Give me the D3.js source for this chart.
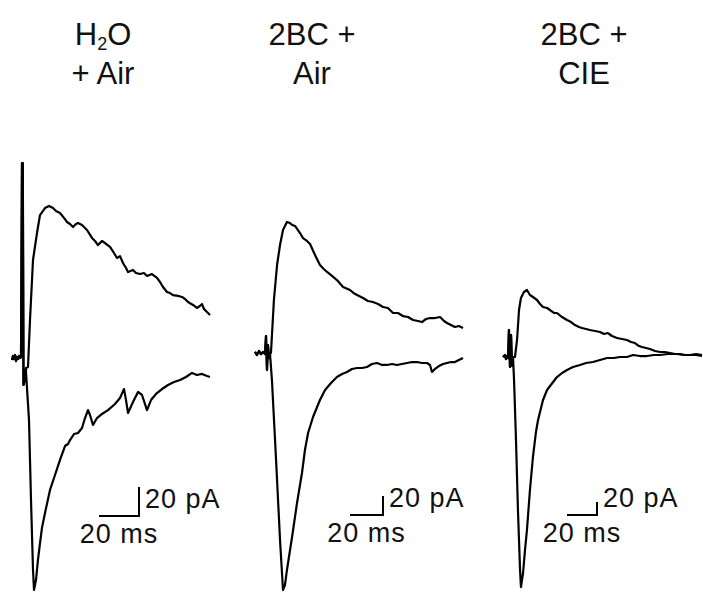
<!DOCTYPE html>
<html>
<head>
<meta charset="utf-8">
<script src="https://cdn.jsdelivr.net/npm/d3@7"></script>
<style>
  html, body { margin: 0; padding: 0; background: #fff; }
  svg { display: block; }
  text { font-family: "Liberation Sans", Arial, Helvetica, sans-serif; fill: #111; }
</style>
</head>
<body>
<svg id="chart" width="703" height="594"></svg>
<script>
// Evoked currents: time (ms, 0 = stimulus) and current (pA, outward positive).

// Panel 1: H2O + Air
const h2oBaseline = [[-5,-1.4],[-4.5,1.4],[-4,-0.7],[-3.5,2.1],[-3,-2.1],[-2.5,0.7],[-2,-0.7],[-1.5,1.4],[-1,0],[-0.5,0.7],
  [0,134.5],[0.4,134.5],[0.75,-18.6],[1.5,-15],[2,-7]];
const h2oOutward = [[3,-6.2],[4,26.2],[5.5,67.6],[7.5,86.2],[9,98.6],[11.5,103.4],[13.5,104.8],[15.5,103.4],[17,101.4],[19,100],
  [21,96.6],[22.5,93.8],[24,92.4],[25.5,90.3],[27,92.4],[28,93.1],[30,91.7],[31,90.3],[32.5,88.3],[35,82.8],[36.5,80.7],[38,77.9],
  [40,80.7],[41.5,79.3],[44,76.6],[46,72.4],[47.5,69],[49,70.3],[50.5,65.5],[52,62.1],[53,59.3],[55.5,60.7],[57,58.6],[59,57.9],
  [61,58.6],[62.5,56.6],[65,57.9],[67.5,55.2],[69,52.4],[70.5,49],[72.5,45.5],[74,44.8],[75.5,43.4],[78,42.8],[80,42.1],[81.5,40.7],
  [83,38.6],[85.5,36.6],[87.5,34.5],[89,35.9],[90,37.2],[91,33.8],[92.5,31.7],[94,29.7]];
const h2oInward = [[2,-9.7],[3.5,-42.8],[4.5,-97.9],[5.5,-146],[6,-160],[7,-153],[8,-139],[9,-127.6],[10,-117],[11.5,-106.9],
  [14,-91],[16.5,-80.7],[19,-70.3],[21.5,-60.7],[23,-59.3],[24,-56.6],[26,-52.4],[28,-51.7],[30,-48.3],[31.5,-41.4],[33,-35.9],
  [34,-39.3],[35.5,-46.2],[37.5,-41.4],[40,-38.6],[43,-35.9],[46.5,-31.7],[49,-27.6],[51,-21.4],[52,-29],[53,-37.9],[55.5,-30.3],
  [58,-23.4],[60,-25.5],[62.5,-35.9],[64.5,-29],[67,-24.8],[70,-21.4],[73,-18.6],[76,-16.6],[79,-15.2],[82,-13.1],[85,-10.3],
  [87.5,-11.7],[90,-11],[92.5,-12.4],[94,-13.1]];

// Panel 2: 2BC + Air
const bcAirBaseline = [[-6.7,1.1],[-5.5,-2.1],[-4.2,2.1],[-3,-1.1],[-1.8,1.1],[-0.6,-1.1],
  [0,17.9],[0.6,-17.9],[1.2,8.4],[1.8,-5.3],[2.4,0]];
const bcAirOutward = [[3,0],[4.8,55.8],[6.7,92.6],[8.5,113.7],[10.3,129.5],[12.7,137.9],[14.5,136.8],[16,134.7],[17.6,133.7],
  [20.6,126.3],[22.4,121],[24.2,118.9],[26.7,114.7],[29.7,103.2],[32.7,92.6],[35,88.4],[37,85.3],[40,81.1],[43,76.8],[46.7,69.5],
  [50.9,66.3],[53,63.2],[55.2,61.1],[58.8,57.9],[61.8,54.7],[64.8,53.7],[67.9,51.6],[70.9,48.4],[73.9,47.4],[77,42.1],[80,42.1],
  [83,38.9],[86.1,37.9],[89.1,34.7],[92.1,33.7],[94.5,32.6],[97,35.8],[99.4,36.8],[102.4,36.8],[105.5,37.9],[107.9,33.7],
  [109.7,31.6],[112.1,29.5],[114.5,27.4],[116.9,28.4],[119.4,26.3]];
const bcAirInward = [[2.4,0],[3.6,-28.4],[6.1,-112.6],[8.5,-196.8],[10.3,-249.5],[11.5,-244.2],[12.7,-228.4],[15.8,-193.7],
  [18.8,-157.9],[21.8,-126.3],[23.6,-102.1],[25.5,-84.2],[28.5,-67.4],[32.7,-49.5],[35.8,-38.9],[39.4,-31.6],[43,-25.3],
  [46.1,-22.1],[49.1,-20],[52.1,-16.8],[55.2,-15.8],[58.2,-15.8],[61.2,-14.7],[64.2,-11.6],[67.3,-10.5],[70.3,-12.6],
  [73.3,-12.6],[76.4,-11.6],[79.4,-12.6],[82.4,-11.6],[85.5,-10.5],[88.5,-9.5],[91.5,-9.5],[94.5,-10.5],[97.6,-10.5],
  [99.4,-12.6],[100.6,-20],[102.4,-16.8],[104.8,-13.7],[107.3,-11.6],[109.7,-10.5],[112.1,-9.5],[114.5,-9.5],[116.9,-7.4],[119.4,-5.3]];

// Panel 3: 2BC + CIE
const bcCieBaseline = [[-4.7,0],[-3.3,3.1],[-2.7,-3.1],[-2,1.5],[-1.3,-1.5],
  [-0.7,41.5],[0,-15.4],[0.7,33.8],[1.3,-13.8],[2,0]];
const bcCieOutward = [[3.3,0],[4.7,26.2],[6,72.3],[7.3,90.8],[9.3,100],[11.3,103.1],[13.3,95.4],[15.3,92.3],[18,87.7],[20,81.5],
  [22,76.9],[24.7,75.4],[26.7,72.3],[29.3,67.7],[31.3,67.7],[34.7,61.5],[38,56.9],[40.7,53.8],[43.3,49.2],[46,46.2],[48,44.6],
  [50.7,43.1],[53.3,41.5],[56.7,40],[60,38.5],[62.7,35.4],[65.3,36.9],[68,32.3],[71.3,29.2],[74.7,27.7],[78,26.2],[80.7,23.1],
  [83.3,21.5],[86,16.9],[88,15.4],[90.7,13.8],[93.3,12.3],[96.7,9.2],[100,7.7],[103.3,7.7],[106.7,6.2],[110,4.6],[113.3,4.6],
  [116.7,3.1],[120,3.1],[124,3.1],[128,1.5]];
const bcCieInward = [[2,0],[2.7,-35.4],[4,-127.7],[5.3,-235.4],[6.7,-327.7],[7.3,-353.8],[8.7,-332.3],[10,-296.9],[11.3,-266.2],
  [13.3,-204.6],[15.3,-153.8],[17.3,-115.4],[18.7,-96.9],[22,-66.2],[24.7,-50.8],[26.7,-44.6],[31.3,-30.8],[34.7,-24.6],[38,-20],
  [42,-15.4],[46.7,-12.3],[50.7,-9.2],[55.3,-7.7],[60,-4.6],[64.7,-1.5],[69.3,-1.5],[73.3,0],[78,0],[82,3.1],[86.7,1.5],[91.3,1.5],
  [96,3.1],[100,3.1],[105.3,4.6],[111.3,4.6],[116,3.1],[120,3.1],[124,4.6],[128,3.1]];

// Condition labels (two lines each) and scale-bar sizes
const titleLine1 = ["H2O", "2BC +", "2BC +"];
const titleLine2 = ["+ Air", "Air", "CIE"];
const scaleBarMs = [20, 20, 20];
const scaleBarPA = [20, 20, 20];
// Scale-bar corner (ms, pA) in each panel's own coordinates
const scaleBarCorner = [[58.5, -109], [70.9, -170.5], [58, -243]];

// Layout: stimulus x, baseline y, pixels per ms, pixels per pA, title centre
const layout = [
  { x0: 22,  y0: 358, pxMs: 2.0,  pxPA: 1.45, titleX: 103 },
  { x0: 266, y0: 353, pxMs: 1.65, pxPA: 0.95, titleX: 312 },
  { x0: 510, y0: 357, pxMs: 1.5,  pxPA: 0.65, titleX: 584 }
];

const traces = [
  [h2oBaseline, h2oOutward, h2oInward],
  [bcAirBaseline, bcAirOutward, bcAirInward],
  [bcCieBaseline, bcCieOutward, bcCieInward]
];

const svg = d3.select("#chart");

layout.forEach((L, i) => {
  const x = d3.scaleLinear().domain([0, 100]).range([L.x0, L.x0 + 100 * L.pxMs]);
  const y = d3.scaleLinear().domain([0, 100]).range([L.y0, L.y0 - 100 * L.pxPA]);
  const line = d3.line().x(d => x(d[0])).y(d => y(d[1])).curve(d3.curveLinear);

  const g = svg.append("g");
  const [base, outward, inward] = traces[i];

  // Response traces share the pre-stimulus baseline and artifact
  [base.concat(outward), base.concat(inward)].forEach(pts => {
    g.append("path")
      .attr("d", line(pts))
      .attr("fill", "none")
      .attr("stroke", "#000")
      .attr("stroke-width", 2.2)
      .attr("stroke-linejoin", "round");
  });

  // Scale bar: horizontal (ms) then vertical (pA) meeting at the corner
  const [cT, cI] = scaleBarCorner[i];
  g.append("path")
    .attr("d", line([[cT - scaleBarMs[i], cI], [cT, cI], [cT, cI + scaleBarPA[i]]]))
    .attr("fill", "none")
    .attr("stroke", "#000")
    .attr("stroke-width", 2);

  g.append("text")
    .attr("x", x(cT) + 6)
    .attr("y", y(cI) - 8)
    .attr("font-size", 27)
    .attr("letter-spacing", 1)
    .text(scaleBarPA[i] + " pA");
  g.append("text")
    .attr("x", x(cT - scaleBarMs[i] / 2))
    .attr("y", y(cI) + 27)
    .attr("text-anchor", "middle")
    .attr("font-size", 27)
    .attr("letter-spacing", 1)
    .text(scaleBarMs[i] + " ms");

  // Condition title
  const t1 = svg.append("text")
    .attr("x", L.titleX).attr("y", 45)
    .attr("text-anchor", "middle")
    .attr("font-size", 31);
  if (titleLine1[i] === "H2O") {
    t1.append("tspan").text("H");
    t1.append("tspan").attr("font-size", 18).attr("dy", 5).text("2");
    t1.append("tspan").attr("dy", -5).text("O");
  } else {
    t1.text(titleLine1[i]);
  }
  svg.append("text")
    .attr("x", L.titleX).attr("y", 84)
    .attr("text-anchor", "middle")
    .attr("font-size", 31)
    .text(titleLine2[i]);
});
</script>
</body>
</html>
